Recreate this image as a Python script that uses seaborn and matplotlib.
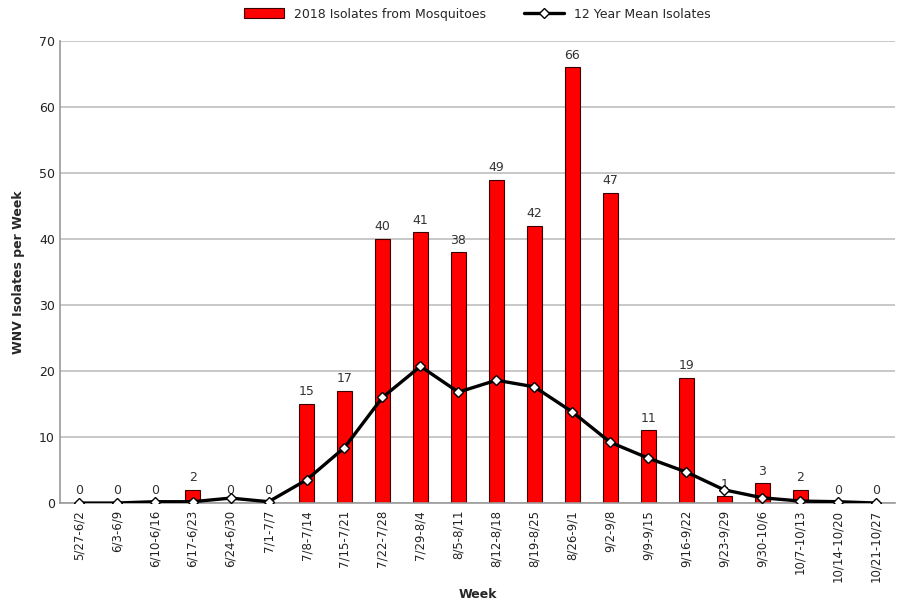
import numpy as np
import pandas as pd
import matplotlib
matplotlib.use("Agg")
import matplotlib.pyplot as plt
import seaborn as sns

weeks = ["5/27-6/2", "6/3-6/9", "6/10-6/16", "6/17-6/23", "6/24-6/30", "7/1-7/7",
         "7/8-7/14", "7/15-7/21", "7/22-7/28", "7/29-8/4", "8/5-8/11", "8/12-8/18",
         "8/19-8/25", "8/26-9/1", "9/2-9/8", "9/9-9/15", "9/16-9/22", "9/23-9/29",
         "9/30-10/6", "10/7-10/13", "10/14-10/20", "10/21-10/27"]
isolates_2018 = [0, 0, 0, 2, 0, 0, 15, 17, 40, 41, 38, 49, 42, 66, 47, 11, 19, 1, 3, 2, 0, 0]
mean_12yr = [0.0, 0.0, 0.2, 0.2, 0.75, 0.2, 3.5, 8.4, 16.0, 20.7, 16.8, 18.6, 17.6, 13.8,
             9.2, 6.8, 4.7, 2.0, 0.8, 0.3, 0.2, 0.0]

sns.set_style("white")
plt.rcParams["font.family"] = ["DejaVu Sans"]

fig = plt.figure(figsize=(9.05, 6.01), dpi=100)
ax = fig.add_axes([0.066, 0.163, 0.923, 0.769])

df = pd.DataFrame({"week": weeks, "isolates": isolates_2018, "mean": mean_12yr})
pos = np.arange(len(weeks))

sns.barplot(data=df, x="week", y="isolates", order=weeks, color="#ff0000",
            edgecolor="#3a0000", linewidth=0.8, width=0.4, saturation=1,
            ax=ax, label="2018 Isolates from Mosquitoes", zorder=2)
ax.bar_label(ax.containers[0], labels=[str(v) for v in isolates_2018],
             padding=4, fontsize=9, color="#333333")

sns.lineplot(x=pos, y=df["mean"], ax=ax, color="black", linewidth=2.4,
             marker="D", markersize=5.5, markerfacecolor="white",
             markeredgecolor="black", markeredgewidth=1.0,
             label="12 Year Mean Isolates", zorder=3)

ax.set_xlim(-0.5, len(weeks) - 0.5)
ax.set_ylim(0, 70)
ax.set_yticks(range(0, 71, 10))
ax.yaxis.grid(True, color="#bfbfbf", linewidth=1.2, zorder=0)
ax.set_axisbelow(True)

ax.set_xticks(pos)
ax.set_xticklabels(weeks, rotation=90, fontsize=8.5, color="#222222")
ax.tick_params(axis="x", which="major", length=0, pad=5)
ax.set_xticks(np.arange(len(weeks) + 1) - 0.5, minor=True)
ax.tick_params(axis="x", which="minor", length=5, color="#999999", width=1)
ax.tick_params(axis="y", labelsize=9, length=0, labelcolor="#222222")

for s in ["top", "right"]:
    ax.spines[s].set_visible(False)
ax.spines["left"].set_color("#999999")
ax.spines["bottom"].set_color("#999999")
ax.spines["left"].set_linewidth(1.2)
ax.spines["bottom"].set_linewidth(1.2)

ax.set_xlabel("Week", fontsize=9, fontweight="bold", labelpad=4)
ax.set_ylabel("WNV Isolates per Week", fontsize=9, fontweight="bold", labelpad=10)

handles, labels = ax.get_legend_handles_labels()
order = [labels.index("2018 Isolates from Mosquitoes"), labels.index("12 Year Mean Isolates")]
ax.legend([handles[i] for i in order], [labels[i] for i in order],
          loc="center", bbox_to_anchor=(0.5, 1.058), ncol=2, frameon=False,
          fontsize=9, handlelength=3.2, handleheight=0.8, columnspacing=3)

fig.savefig("out.png", dpi=100)
